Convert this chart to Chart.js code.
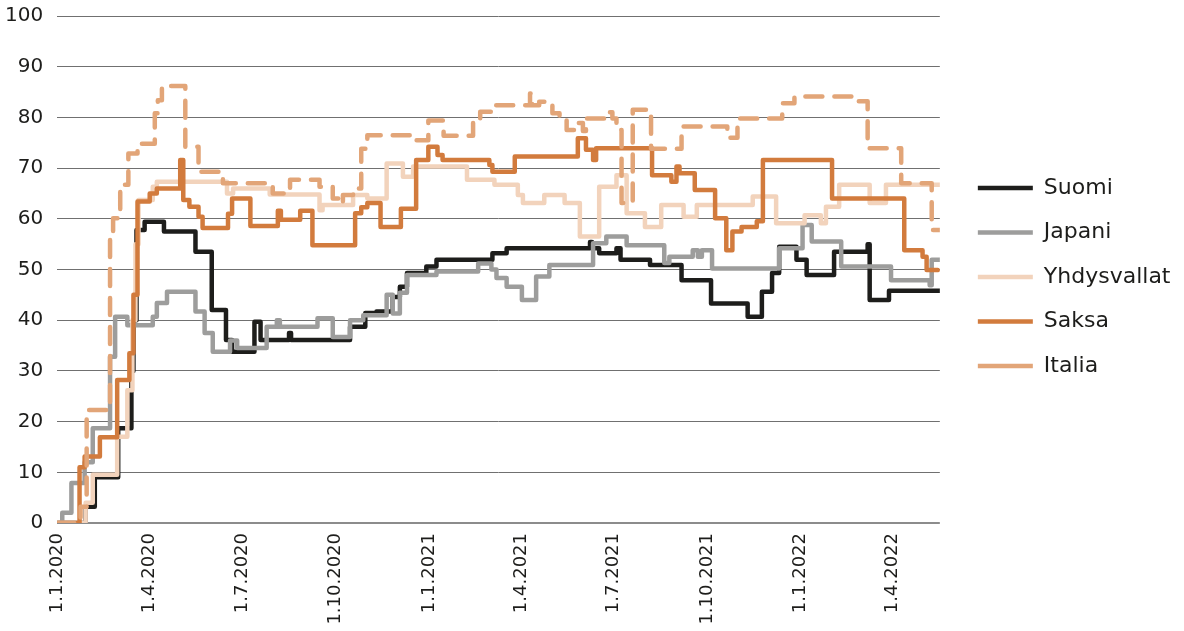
<!DOCTYPE html>
<html lang="fi">
<head>
<meta charset="utf-8">
<title>Rajoitusten tiukkuus</title>
<script src="https://cdn.jsdelivr.net/npm/chart.js@4.4.1/dist/chart.umd.min.js"></script>
<style>
    html, body { margin: 0; padding: 0; background: #fff; }
    canvas { display: block; }
</style>
</head>
<body>
<canvas id="chart" width="1184" height="631"></canvas>
<script>
// x-arvot: päiviä 1.1.2020 jälkeen, y-arvo on voimassa seuraavaan muutokseen asti
const tickLabels = ['1.1.2020', '1.4.2020', '1.7.2020', '1.10.2020', '1.1.2021', '1.4.2021', '1.7.2021', '1.10.2021', '1.1.2022', '1.4.2022'];
const lastDay = 868;

const suomiDays = [0, 28, 37, 60, 73, 75, 78, 86, 105, 136, 152, 166, 172, 194, 200, 228, 230, 288, 303, 314, 330, 337, 344, 363, 373, 428, 442, 524, 526, 533, 550, 554, 583, 614, 643, 679, 693, 703, 710, 727, 737, 764, 797, 799, 818, 868];
const suomiValues = [0, 3.2, 9, 18.7, 30, 40, 57.8, 59.4, 57.5, 53.5, 42, 36.1, 33.8, 39.7, 36.1, 37.5, 36.1, 38.7, 41.4, 41.7, 44.6, 46.6, 49.3, 50.6, 51.9, 53.2, 54.2, 55.4, 54.2, 53.2, 54.2, 51.9, 50.9, 47.9, 43.3, 40.7, 45.6, 49.3, 54.5, 51.9, 48.9, 53.5, 55, 44, 45.8, 45.8];

const japaniDays = [0, 5, 14, 27, 35, 52, 57, 69, 94, 98, 108, 136, 145, 153, 170, 177, 206, 216, 219, 256, 271, 288, 301, 324, 330, 337, 344, 373, 414, 427, 432, 442, 457, 471, 484, 527, 540, 560, 597, 602, 625, 630, 634, 644, 710, 733, 742, 771, 820, 858, 860, 868];
const japaniValues = [0, 2, 7.9, 12, 18.7, 32.8, 40.7, 39, 40.7, 43.4, 45.6, 41.7, 37.5, 33.8, 36, 34.5, 38.7, 40, 38.7, 40.4, 36.7, 40, 41, 45, 41.3, 45.4, 48.9, 49.6, 51.2, 50, 48.3, 46.6, 44, 48.6, 50.9, 55.2, 56.5, 54.8, 51.3, 52.5, 53.8, 52.5, 53.8, 50.2, 54.2, 58.8, 55.5, 50.6, 47.9, 46.9, 51.9, 51.9];

const usaDays = [0, 28, 35, 59, 69, 74, 77, 80, 94, 98, 167, 173, 209, 258, 261, 291, 305, 324, 340, 350, 403, 430, 453, 458, 479, 499, 514, 533, 550, 560, 578, 594, 616, 629, 684, 707, 735, 751, 756, 769, 799, 815, 868];
const usaValues = [0, 4, 9.5, 17, 26.2, 40, 55, 63.7, 66.3, 67.3, 65, 66, 64.8, 61.7, 62.7, 64.7, 64, 70.9, 68.3, 70.3, 67.7, 66.7, 64.7, 63.1, 64.7, 63.1, 56.5, 66.3, 68.6, 61.1, 58.4, 62.7, 60.4, 62.7, 64.4, 59.1, 60.7, 59.1, 62.4, 66.7, 63.1, 66.7, 66.7];

const saksaDays = [0, 22, 27, 42, 59, 71, 75, 79, 91, 98, 121, 124, 130, 139, 143, 168, 172, 190, 217, 220, 239, 251, 293, 299, 305, 318, 338, 353, 365, 374, 379, 425, 428, 450, 512, 520, 527, 530, 585, 604, 609, 612, 627, 647, 658, 664, 673, 688, 694, 762, 833, 851, 855, 866];
const saksaValues = [0, 11, 13.1, 16.9, 28.2, 33.5, 45, 63.4, 65, 66, 71.6, 63.7, 62.4, 60.4, 58.2, 61, 64, 58.6, 61.6, 59.8, 61.6, 54.8, 61.1, 62.3, 63.1, 58.4, 62, 71.6, 74.2, 72.6, 71.6, 70.6, 69.3, 72.3, 75.9, 73.6, 71.6, 73.9, 68.6, 67.3, 70.3, 69, 65.7, 60.1, 53.8, 57.5, 58.4, 59.5, 71.6, 64, 53.8, 52.5, 49.9, 49.9];

const italiaDays = [0, 23, 29, 52, 55, 62, 70, 79, 96, 99, 103, 126, 139, 163, 212, 229, 258, 271, 278, 281, 291, 299, 305, 347, 365, 380, 409, 416, 427, 465, 467, 474, 487, 494, 501, 511, 517, 520, 543, 546, 550, 555, 566, 584, 614, 659, 669, 713, 725, 782, 797, 830, 860, 868];
const italiaValues = [0, 3.2, 22.3, 57.2, 60.1, 66.7, 72.9, 74.8, 80.8, 83.4, 86.2, 74.2, 69.3, 67, 65, 67.7, 66.3, 64, 63, 64.7, 66, 73.8, 76.5, 75.5, 79.4, 76.4, 78.9, 81.1, 82.4, 84.7, 82.4, 83.1, 80.8, 79.5, 77.5, 78.9, 77.3, 79.8, 81, 79.8, 77.5, 63.1, 81.5, 73.8, 78.2, 76, 79.8, 82.8, 84.1, 83.2, 73.9, 67, 57.8, 57.8];

const FONT = '"DejaVu Sans", sans-serif';
const TEXT = '#1d1d1b';

const start = Date.UTC(2020, 0, 1);
const dayOf = (label) => {
    const [d, m, y] = label.split('.').map(Number);
    return Math.round((Date.UTC(y, m - 1, d) - start) / 864e5);
};
const tickDays = tickLabels.map(dayOf);

const toPoints = (days, values) => days.map((x, i) => ({ x, y: values[i] }));

const series = [
    { label: 'Suomi', data: toPoints(suomiDays, suomiValues), color: '#1d1d1b' },
    { label: 'Japani', data: toPoints(japaniDays, japaniValues), color: '#9d9d9c' },
    { label: 'Yhdysvallat', data: toPoints(usaDays, usaValues), color: '#f2d3bc' },
    { label: 'Saksa', data: toPoints(saksaDays, saksaValues), color: '#d27b3d' },
    { label: 'Italia', data: toPoints(italiaDays, italiaValues), color: '#e2a578', dash: [17, 12] }
];

new Chart(document.getElementById('chart'), {
    type: 'line',
    data: {
        datasets: series.map((s, i) => ({
            label: s.label,
            data: s.data,
            borderColor: s.color,
            backgroundColor: s.color,
            borderWidth: 4.5,
            borderDash: s.dash || [],
            borderCapStyle: 'round',
            borderJoinStyle: 'round',
            // arvo pysyy samana seuraavaan pisteeseen asti
            stepped: 'before',
            pointRadius: 0,
            fill: false,
            // myöhemmät sarjat piirretään päälle
            order: series.length - i
        }))
    },
    options: {
        responsive: false,
        animation: false,
        layout: {
            padding: { top: 16, left: -9, right: 3.5, bottom: 0 }
        },
        scales: {
            x: {
                type: 'linear',
                min: 0,
                max: lastDay,
                afterBuildTicks: (scale) => {
                    scale.ticks = tickDays.map(value => ({ value }));
                },
                afterFit: (scale) => {
                    // tekstit saavat jatkua kuvan alareunan yli kuten alkuperäisessä
                    scale.height = 108;
                    scale.paddingLeft = 0;
                    scale.paddingRight = 0;
                },
                ticks: {
                    autoSkip: false,
                    minRotation: 90,
                    maxRotation: 90,
                    padding: 10,
                    color: TEXT,
                    font: { family: FONT, size: 18 },
                    callback: (value) => {
                        const idx = tickDays.indexOf(value);
                        return idx >= 0 ? tickLabels[idx] : '';
                    }
                },
                grid: { display: false, drawTicks: false },
                border: { display: false }
            },
            y: {
                min: 0,
                max: 100,
                afterFit: (scale) => {
                    scale.paddingTop = 0;
                    scale.paddingBottom = 0;
                },
                ticks: {
                    stepSize: 10,
                    padding: 14,
                    color: TEXT,
                    font: { family: FONT, size: 20 }
                },
                grid: {
                    drawTicks: false,
                    color: (ctx) => ctx.tick && ctx.tick.value === 0 ? '#8c8c8c' : '#707070',
                    lineWidth: (ctx) => ctx.tick && ctx.tick.value === 0 ? 2 : 1
                },
                border: { display: false }
            },
            spacer: {
                position: 'right',
                display: true,
                ticks: { display: false },
                grid: { display: false, drawTicks: false },
                border: { display: false },
                afterFit: (scale) => {
                    scale.width = 15.5;
                }
            }
        },
        plugins: {
            tooltip: { enabled: false },
            legend: {
                position: 'right',
                align: 'center',
                fullSize: false,
                maxWidth: 300,
                // tyhjä otsikko siirtää selitettä hieman alaspäin
                title: { display: true, text: '', padding: 1.5, font: { size: 10 } },
                labels: {
                    usePointStyle: true,
                    pointStyle: 'line',
                    pointStyleWidth: 55,
                    padding: 22.5,
                    color: TEXT,
                    font: { family: FONT, size: 22 },
                    sort: (a, b) => a.datasetIndex - b.datasetIndex
                }
            }
        }
    }
});
</script>
</body>
</html>
